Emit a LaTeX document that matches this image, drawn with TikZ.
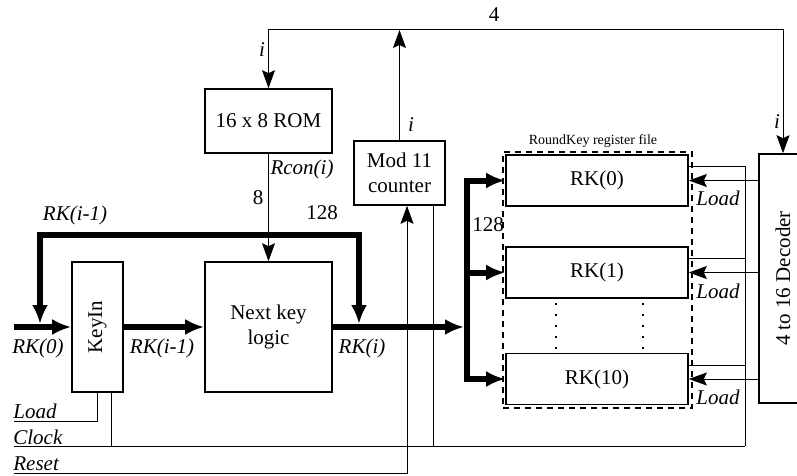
\documentclass[tikz,border=0pt]{standalone}
\usepackage{fontspec}
\setmainfont{Liberation Serif}
\usepackage{graphicx}
\usetikzlibrary{arrows.meta}

\newcommand{\diagfont}{\fontsize{10.5}{12.5}\selectfont}
\newcommand{\diagsmall}{\fontsize{7}{8}\selectfont}

\begin{document}
\begin{tikzpicture}[x=0.5pt,y=-0.5pt,font=\diagfont]
\tikzset{
  blockbox/.style={draw=black,line width=0.8pt,fill=white,inner sep=1pt,align=center,font=\diagfont},
  regbox/.style={blockbox,minimum width=91pt,minimum height=25.5pt},
  filebox/.style={draw=black,line width=0.9pt,dash pattern=on 3pt off 2.5pt,minimum width=94.5pt,minimum height=128pt},
  sigline/.style={draw=black,line width=0.5pt},
  sigarrow/.style={sigline,-{Stealth[length=9pt,width=6.5pt,inset=1.5pt]}},
  busline/.style={draw=black,line width=3pt},
  busarrow/.style={busline,-{Latex[length=9.5pt,width=8pt]}},
  fbarrow/.style={busline,{Latex[length=9.5pt,width=8pt]}-{Latex[length=9.5pt,width=8pt]}},
  siglabel/.style={font=\diagfont\itshape,inner sep=0pt},
  numlabel/.style={font=\diagfont,inner sep=0pt}
}
\useasboundingbox (0,0) rectangle (797,476);
\clip (0,0) rectangle (797,476);

% blocks
\node[blockbox,minimum width=63.5pt,minimum height=32pt] (n_rom) at (268.5,121) {16 x 8 ROM};
\node[blockbox,minimum width=63.5pt,minimum height=65pt] (n_nkl) at (268.5,327) {Next key\\logic};
\node[blockbox,minimum width=25.5pt,minimum height=65pt] (n_keyin) at (97.5,327) {\rotatebox{90}{KeyIn}};
\node[blockbox,minimum width=45.5pt,minimum height=32pt] (n_ctr) at (399.5,173) {Mod 11\\counter};
\node[filebox] (n_rf) at (597.5,280) {};
\node[regbox] (n_rk0) at (597,180.5) {RK(0)};
\node[regbox] (n_rk1) at (597,272.5) {RK(1)};
\node[regbox] (n_rk10) at (597,379) {RK(10)};
\node[blockbox,minimum width=24pt,minimum height=124.5pt] (n_dec) at (783,278.5) {\rotatebox{90}{4 to 16 Decoder}};

% dots between the registers
\draw[line width=1pt,dash pattern=on 1pt off 4.5pt] (556,303) -- (556,350);
\draw[line width=1pt,dash pattern=on 1pt off 4.5pt] (643,303) -- (643,350);

% helper points
\coordinate (c_bus) at (399.5,30);
\coordinate (c_in) at (14,327);
\coordinate (c_split) at (467,327);
\coordinate (c_join) at (464,327);
\coordinate (c_fb_l) at (40,324);
\coordinate (c_fb_t) at (200,235);
\coordinate (c_fb_r) at (359,324);
\coordinate (c_load_l) at (14,421);
\coordinate (c_clk_l) at (14,446);
\coordinate (c_clk_r) at (745,446);
\coordinate (c_rst_l) at (14,473);

% round index bus
\draw[sigarrow] (n_ctr.north) -- (c_bus);
\draw[sigarrow] (c_bus) -| (n_rom.north);
\draw[sigarrow] (c_bus) -| (n_dec.north);

% key data path
\draw[fbarrow] (c_fb_l) |- (c_fb_t) -| (c_fb_r);
\draw[sigarrow] (n_rom.south) -- (n_nkl.north);
\draw[busarrow] (c_in) -- (n_keyin.west);
\draw[busarrow] (n_keyin.east) -- (n_nkl.west);
\draw[busarrow] (n_nkl.east) -- (c_join);
\draw[busarrow] (c_split |- n_rk1.west) |- (n_rk0.west);
\draw[busarrow] (c_split |- n_rk1.west) |- (n_rk10.west);
\draw[busarrow] (c_split |- n_rk1.west) -- (n_rk1.west);

% load strobes from the decoder
\draw[sigarrow] (n_dec.west |- n_rk0.east) -- (n_rk0.east);
\draw[sigarrow] (n_dec.west |- n_rk1.east) -- (n_rk1.east);
\draw[sigarrow] (n_dec.west |- n_rk10.east) -- (n_rk10.east);

% clock, load and reset
\draw[sigline] ([yshift=7pt]n_rk0.east) -| (c_clk_r);
\draw[sigline] ([yshift=7pt]n_rk1.east) -| (c_clk_r);
\draw[sigline] ([yshift=7pt]n_rk10.east) -| (c_clk_r);
\draw[sigline] (c_clk_l) -- (c_clk_r);
\draw[sigline] ([xshift=6.75pt]n_keyin.south) -- ([xshift=6.75pt]n_keyin.south |- c_clk_l);
\draw[sigline] ([xshift=16.75pt]n_ctr.south) -- ([xshift=16.75pt]n_ctr.south |- c_clk_l);
\draw[sigline] (n_keyin.south) |- (c_load_l);
\draw[sigarrow] (c_rst_l) -| ([xshift=3.75pt]n_ctr.south);

% labels
\node[numlabel] (t_four) at (494,15) {4};
\node[siglabel] (t_i_rom) at (262,50) {i};
\node[siglabel] (t_i_ctr) at (411,125) {i};
\node[siglabel] (t_i_dec) at (777,122) {i};
\node[siglabel] (t_rcon) at (302,169) {Rcon(i)};
\node[numlabel] (t_eight) at (258,198) {8};
\node[numlabel] (t_w_fb) at (322,213) {128};
\node[siglabel] (t_rk_fb) at (75,215) {RK(i-1)};
\node[siglabel] (t_rk_in) at (38,348) {RK(0)};
\node[siglabel] (t_rk_prev) at (162,348) {RK(i-1)};
\node[siglabel] (t_rk_out) at (362,348) {RK(i)};
\node[numlabel] (t_w_bus) at (488,225) {128};
\node[numlabel,font=\diagsmall] (t_rf) at (593,141) {RoundKey register file};
\node[siglabel] (t_load0) at (718,198) {Load};
\node[siglabel] (t_load1) at (718,291) {Load};
\node[siglabel] (t_load10) at (718,397) {Load};
\node[siglabel,anchor=west] (t_load) at (13,411) {Load};
\node[siglabel,anchor=west] (t_clock) at (13,437) {Clock};
\node[siglabel,anchor=west] (t_reset) at (13,464) {Reset};
\end{tikzpicture}
\end{document}
